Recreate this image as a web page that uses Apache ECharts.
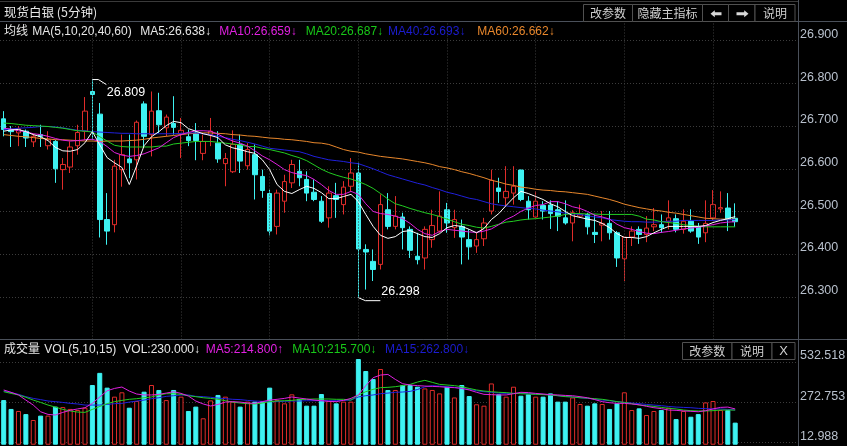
<!DOCTYPE html>
<html><head><meta charset="utf-8">
<script src="https://cdn.jsdelivr.net/npm/echarts/dist/echarts.min.js"></script>
<style>html,body{margin:0;padding:0;background:#000;}#c{width:847px;height:446px;}</style>
</head><body><div id="c"></div>
<script>
// ---------------- DATA ----------------
const slotCount = 108; // 100 candles + empty room on the right
const opens = [26.717,26.692,26.684,26.688,26.663,26.680,26.654,26.664,26.598,26.604,
26.654,26.688,26.781,26.728,26.481,26.469,26.598,26.623,26.621,26.752,
26.680,26.736,26.696,26.706,26.682,26.675,26.684,26.636,26.680,26.660,
26.612,26.593,26.657,26.607,26.633,26.582,26.542,26.465,26.524,26.567,
26.594,26.575,26.545,26.524,26.485,26.537,26.516,26.559,26.590,26.411,
26.383,26.376,26.504,26.465,26.487,26.458,26.395,26.391,26.434,26.454,
26.504,26.462,26.465,26.434,26.419,26.436,26.501,26.555,26.532,26.543,
26.597,26.524,26.487,26.514,26.515,26.504,26.485,26.473,26.489,26.493,
26.451,26.468,26.472,26.450,26.389,26.440,26.458,26.446,26.464,26.469,
26.477,26.483,26.458,26.477,26.464,26.450,26.485,26.506,26.508,26.484];
const closes = [26.692,26.687,26.694,26.672,26.676,26.676,26.668,26.600,26.610,26.651,
26.685,26.735,26.774,26.481,26.454,26.606,26.633,26.614,26.709,26.676,
26.735,26.703,26.721,26.697,26.690,26.666,26.666,26.664,26.688,26.623,
26.624,26.657,26.618,26.645,26.586,26.549,26.454,26.543,26.570,26.610,
26.579,26.543,26.528,26.477,26.543,26.528,26.557,26.590,26.412,26.405,
26.364,26.516,26.465,26.489,26.462,26.409,26.387,26.458,26.467,26.489,
26.473,26.481,26.440,26.417,26.434,26.473,26.573,26.547,26.547,26.559,
26.528,26.504,26.524,26.501,26.495,26.489,26.473,26.497,26.493,26.464,
26.446,26.472,26.450,26.391,26.440,26.454,26.446,26.461,26.469,26.462,
26.485,26.458,26.477,26.454,26.440,26.472,26.516,26.509,26.481,26.476];
const lows = [26.676,26.651,26.653,26.651,26.651,26.651,26.645,26.567,26.551,26.590,
26.633,26.668,26.668,26.439,26.422,26.451,26.558,26.578,26.575,26.651,
26.629,26.684,26.676,26.680,26.625,26.653,26.620,26.620,26.653,26.614,
26.559,26.590,26.590,26.598,26.528,26.532,26.444,26.446,26.497,26.555,
26.559,26.524,26.524,26.473,26.462,26.485,26.493,26.547,26.298,26.317,
26.337,26.364,26.458,26.458,26.411,26.391,26.376,26.364,26.415,26.450,
26.450,26.438,26.376,26.387,26.403,26.419,26.493,26.520,26.512,26.516,
26.524,26.481,26.485,26.481,26.459,26.454,26.469,26.430,26.485,26.446,
26.426,26.430,26.434,26.370,26.337,26.419,26.424,26.428,26.454,26.450,
26.458,26.451,26.448,26.450,26.424,26.428,26.480,26.497,26.454,26.464];
const highs = [26.735,26.700,26.700,26.692,26.682,26.703,26.688,26.668,26.625,26.664,
26.703,26.768,26.809,26.754,26.543,26.621,26.680,26.680,26.713,26.758,
26.781,26.778,26.727,26.770,26.719,26.692,26.707,26.680,26.719,26.688,
26.637,26.690,26.680,26.660,26.657,26.598,26.551,26.551,26.586,26.621,
26.621,26.594,26.575,26.536,26.559,26.567,26.571,26.625,26.614,26.423,
26.411,26.540,26.543,26.536,26.497,26.465,26.450,26.465,26.504,26.547,
26.520,26.504,26.481,26.458,26.450,26.485,26.598,26.579,26.606,26.606,
26.598,26.536,26.547,26.524,26.526,26.524,26.526,26.503,26.516,26.497,
26.493,26.501,26.501,26.454,26.440,26.465,26.465,26.489,26.508,26.493,
26.526,26.493,26.505,26.505,26.473,26.526,26.550,26.547,26.543,26.519];
const ma5 = [26.688,26.691,26.692,26.687,26.680,26.675,26.666,26.650,26.642,26.641,
26.645,26.661,26.687,26.656,26.626,26.614,26.603,26.563,26.607,26.654,
26.675,26.687,26.701,26.711,26.708,26.694,26.688,26.682,26.678,26.673,
26.656,26.649,26.645,26.640,26.636,26.621,26.598,26.563,26.547,26.542,
26.551,26.559,26.554,26.544,26.530,26.530,26.535,26.540,26.523,26.493,
26.465,26.444,26.437,26.441,26.453,26.455,26.448,26.441,26.439,26.448,
26.462,26.467,26.465,26.458,26.450,26.460,26.481,26.495,26.514,26.532,
26.547,26.542,26.535,26.528,26.518,26.511,26.500,26.490,26.486,26.482,
26.479,26.472,26.462,26.448,26.439,26.439,26.437,26.441,26.450,26.458,
26.465,26.465,26.465,26.465,26.465,26.467,26.474,26.479,26.483,26.488];
const ma10 = [26.695,26.693,26.689,26.687,26.682,26.680,26.676,26.671,26.667,26.665,
26.666,26.668,26.669,26.664,26.652,26.638,26.632,26.629,26.631,26.635,
26.642,26.649,26.661,26.673,26.680,26.685,26.689,26.689,26.688,26.681,
26.672,26.665,26.660,26.653,26.642,26.630,26.621,26.610,26.598,26.591,
26.587,26.584,26.575,26.563,26.549,26.540,26.540,26.547,26.540,26.518,
26.500,26.495,26.493,26.489,26.483,26.472,26.458,26.448,26.444,26.453,
26.458,26.456,26.454,26.452,26.451,26.454,26.459,26.469,26.481,26.489,
26.500,26.508,26.514,26.516,26.523,26.523,26.518,26.511,26.507,26.500,
26.491,26.487,26.482,26.470,26.462,26.458,26.453,26.449,26.448,26.451,
26.453,26.456,26.459,26.461,26.463,26.466,26.469,26.473,26.475,26.476];
const ma20 = [26.707,26.706,26.704,26.702,26.701,26.700,26.699,26.697,26.695,26.692,
26.689,26.688,26.686,26.675,26.665,26.655,26.652,26.651,26.651,26.651,
26.651,26.653,26.653,26.658,26.660,26.662,26.664,26.664,26.664,26.662,
26.660,26.658,26.656,26.652,26.652,26.648,26.645,26.641,26.637,26.631,
26.626,26.619,26.609,26.599,26.591,26.585,26.580,26.576,26.570,26.563,
26.554,26.542,26.529,26.518,26.513,26.507,26.502,26.497,26.493,26.488,
26.482,26.476,26.470,26.467,26.463,26.461,26.465,26.470,26.475,26.477,
26.480,26.482,26.483,26.485,26.487,26.489,26.493,26.495,26.495,26.494,
26.494,26.493,26.493,26.493,26.493,26.493,26.489,26.482,26.480,26.476,
26.474,26.472,26.469,26.467,26.465,26.464,26.464,26.464,26.464,26.464];
const ma40 = [26.692,26.693,26.695,26.696,26.697,26.699,26.699,26.698,26.696,26.693,
26.690,26.689,26.687,26.686,26.685,26.684,26.683,26.683,26.682,26.682,
26.682,26.682,26.682,26.682,26.683,26.684,26.684,26.682,26.680,26.676,
26.673,26.669,26.666,26.662,26.658,26.653,26.648,26.646,26.644,26.642,
26.640,26.635,26.629,26.625,26.621,26.619,26.617,26.614,26.612,26.606,
26.600,26.593,26.586,26.581,26.576,26.571,26.566,26.562,26.556,26.551,
26.545,26.541,26.536,26.531,26.528,26.523,26.518,26.515,26.513,26.511,
26.509,26.507,26.506,26.503,26.501,26.499,26.496,26.494,26.493,26.490,
26.487,26.485,26.481,26.479,26.477,26.476,26.476,26.475,26.475,26.476,
26.477,26.477,26.479,26.479,26.479,26.479,26.479,26.480,26.480,26.481];
const ma60 = [26.680,26.678,26.676,26.675,26.673,26.671,26.670,26.668,26.668,26.667,
26.666,26.665,26.665,26.664,26.665,26.665,26.665,26.666,26.667,26.669,
26.672,26.674,26.676,26.678,26.680,26.682,26.683,26.684,26.684,26.683,
26.682,26.680,26.679,26.677,26.676,26.674,26.672,26.671,26.669,26.668,
26.666,26.664,26.661,26.660,26.657,26.651,26.645,26.641,26.639,26.635,
26.632,26.629,26.627,26.625,26.623,26.620,26.617,26.614,26.610,26.605,
26.602,26.598,26.593,26.589,26.584,26.579,26.573,26.569,26.564,26.561,
26.557,26.555,26.552,26.550,26.549,26.547,26.546,26.544,26.542,26.540,
26.536,26.532,26.528,26.523,26.517,26.513,26.509,26.506,26.503,26.501,
26.498,26.496,26.493,26.490,26.487,26.484,26.483,26.482,26.482,26.482];
const volumes = [287,230,217,197,159,187,187,245,242,230,
223,238,384,462,367,309,337,238,281,341,
384,352,287,352,309,217,245,170,285,320,
309,277,245,277,277,277,367,287,266,324,
294,251,251,326,281,266,277,277,551,474,
423,487,352,352,384,384,373,362,352,330,
373,304,384,313,260,251,394,324,309,373,
315,324,309,309,330,277,277,304,262,251,
266,262,230,266,337,223,234,191,217,223,
238,165,217,180,197,272,281,223,223,142];
const volMa5 = [352,337,320,287,255,212,195,191,208,221,
230,238,266,307,347,362,371,345,326,320,
320,324,332,341,330,313,281,262,249,259,
274,277,274,268,266,277,287,292,298,307,
300,294,287,283,279,277,285,298,320,380,
431,448,452,420,392,384,380,377,375,373,
369,367,362,352,337,324,322,320,320,328,
337,335,330,326,322,320,317,315,309,302,
290,277,270,266,266,262,257,247,238,232,
223,221,217,215,212,219,230,240,242,230];
const volMa10 = [341,330,320,305,287,272,255,242,227,217,
210,208,227,246,264,277,285,292,296,302,
307,320,328,328,324,315,309,302,298,292,
283,274,268,264,262,268,277,281,283,285,
290,292,294,294,294,292,292,287,320,341,
356,367,369,373,380,388,403,414,401,388,
384,380,373,362,352,345,341,337,335,330,
328,326,324,322,320,315,309,307,302,300,
296,292,285,277,272,264,255,251,246,240,
234,230,223,219,217,217,219,223,223,223];
const volMa15 = [345,335,324,309,298,290,281,277,272,266,
262,255,255,255,259,264,266,274,281,287,
296,302,311,315,320,320,311,309,305,300,
296,292,290,285,281,279,277,277,279,281,
281,283,283,283,283,283,285,287,307,315,
320,328,332,337,339,343,355,372,380,377,
373,369,362,356,347,341,337,332,330,330,
330,328,326,324,320,315,311,307,302,298,
294,287,283,277,272,268,264,259,255,251,
246,242,240,238,234,232,230,230,227,223];
const priceMin = 26.2, priceMax = 26.945, priceStep = 0.1;
const volTicks = [12.988, 272.753, 532.518];
const volMax = 676.6;
const hourMarks = [12, 24, 36, 48, 60, 72, 84, 96];
const extremes = [[12, 26.809, 0], [48, 26.298, 1]];
const titleText = '现货白银 (5分钟)';
const maLegend = [['均线', '#e6e6e6', 4], ['MA(5,10,20,40,60)', '#e6e6e6', 32.3], ['MA5:26.638↓', '#e6e6e6', 140.3],
  ['MA10:26.659↓', '#e020e0', 219.3], ['MA20:26.687↓', '#18c818', 305.7], ['MA40:26.693↓', '#1c1cd0', 388], ['MA60:26.662↓', '#e8872c', 477.3]];
const volLegend = [['成交量', '#e6e6e6', 4], ['VOL(5,10,15)', '#e6e6e6', 44.3], ['VOL:230.000↓', '#e6e6e6', 123.3],
  ['MA5:214.800↑', '#e020e0', 205.7], ['MA10:215.700↓', '#18c818', 292.3], ['MA15:262.800↓', '#1c1cd0', 385]];

// ---------------- CHART ----------------
const categories = [];
for (let i = 0; i < slotCount; i++) categories.push(String(i));
const UP = '#e02c2a', DOWN = '#3ef2f2';
const FONT = '"Liberation Sans","Noto Sans CJK SC",sans-serif';
const CJK = '"Noto Sans CJK SC",sans-serif';
const GRIDC = '#3c3c3c';
const FRAME = '#4a505a';
const BLUE = '#2020dc';

const candleData = opens.map((o, i) => [o, closes[i], lows[i], highs[i]]);
const volData = volumes.map((v, i) => {
  const up = closes[i] >= opens[i];
  return { value: v, itemStyle: up ? { color: '#000', borderColor: UP, borderWidth: 1 } : { color: DOWN, borderColor: DOWN, borderWidth: 1 } };
});

function txt(t, color, x, y, font) {
  return { type: 'text', x: x, y: y, z: 100, silent: true,
    style: { text: t, fill: color, font: font || ('12px ' + FONT), verticalAlign: 'middle', align: 'left' } };
}
function btn(x, y, w, h, label, font) {
  return [
    { type: 'rect', z: 90, silent: true, shape: { x: x, y: y, width: w, height: h }, style: { fill: '#000', stroke: '#505050', lineWidth: 1 } },
    { type: 'text', z: 91, silent: true, x: x + w / 2, y: y + h / 2 + 0.5, style: { text: label, fill: '#cfcfcf', font: font || ('12px ' + CJK), align: 'center', verticalAlign: 'middle' } }
  ];
}
function hline(y, x1, x2, c) { return { type: 'line', z: 80, silent: true, shape: { x1: x1, y1: y, x2: x2, y2: y }, style: { stroke: c || FRAME, lineWidth: 1 } }; }

const graphics = [];
graphics.push(hline(1.5, 0, 798, '#3a3a3a'), hline(21.5, 0, 847), hline(339.5, 0, 847));
graphics.push({ type: 'line', z: 80, silent: true, shape: { x1: 798.5, y1: 0, x2: 798.5, y2: 446 }, style: { stroke: FRAME, lineWidth: 1 } });
graphics.push(txt(titleText, '#e6e6e6', 4, 12.7, '12.5px ' + CJK));
maLegend.forEach(m => graphics.push(txt(m[0], m[1], m[2], 31.7)));
volLegend.forEach(m => graphics.push(txt(m[0], m[1], m[2], 349.5)));
graphics.push(...btn(583.5, 4.5, 49, 17, '改参数'), ...btn(632.5, 4.5, 70, 17, '隐藏主指标'),
  ...btn(702.5, 4.5, 26, 17, ''), ...btn(728.5, 4.5, 26.5, 17, ''), ...btn(755, 4.5, 40, 17, '说明'));
graphics.push({ type: 'polygon', z: 95, silent: true, shape: { points: [[710.5, 13.8], [714.8, 10.3], [714.8, 12.3], [721.5, 12.3], [721.5, 15.3], [714.8, 15.3], [714.8, 17.3]] }, style: { fill: '#d8d8d8' } });
graphics.push({ type: 'polygon', z: 95, silent: true, shape: { points: [[748.5, 13.8], [744.2, 10.3], [744.2, 12.3], [736.5, 12.3], [736.5, 15.3], [744.2, 15.3], [744.2, 17.3]] }, style: { fill: '#d8d8d8' } });
graphics.push(...btn(682.5, 342.5, 49.5, 17, '改参数'), ...btn(732, 342.5, 40, 17, '说明'), ...btn(772, 342.5, 23, 17, 'X', '13px ' + FONT));

const axisLabelStyle = { color: '#b8c0cc', fontSize: 12.5, fontFamily: FONT, margin: 2, verticalAlign: 'bottom', align: 'left' };
function maLine(data, color, xi, yi) {
  return { type: 'line', data: data, xAxisIndex: xi, yAxisIndex: yi, showSymbol: false, symbol: 'none', z: 5, silent: true,
    lineStyle: { color: color, width: 1 }, itemStyle: { color: color }, emphasis: { disabled: true } };
}

const option = {
  backgroundColor: '#000',
  animation: false,
  grid: [
    { left: 0, right: 49, top: 21.5, height: 318, containLabel: false, outerBoundsMode: 'none', show: false },
    { left: 0, right: 49, top: 339.5, height: 103.2, containLabel: false, outerBoundsMode: 'none', show: false }
  ],
  xAxis: [0, 1].map(g => ({ type: 'category', gridIndex: g, data: categories, boundaryGap: true,
    axisLine: { show: false }, axisTick: { show: false }, axisLabel: { show: false }, splitLine: { show: false }, axisPointer: { show: false } })),
  yAxis: [
    { type: 'value', gridIndex: 0, position: 'right', min: priceMin, max: priceMax, interval: priceStep, scale: true,
      axisLine: { show: false }, axisTick: { show: false },
      splitLine: { show: true, lineStyle: { color: GRIDC, type: [1, 2], width: 1 } },
      axisLabel: Object.assign({}, axisLabelStyle, { formatter: v => (v > priceMin + 1e-6 && v < priceMax - 1e-6) ? v.toFixed(3) : '' }) },
    { type: 'value', gridIndex: 1, position: 'right', min: volTicks[0], max: volMax, interval: volTicks[1] - volTicks[0],
      axisLine: { show: false }, axisTick: { show: false },
      splitLine: { show: true, lineStyle: { color: GRIDC, type: [1, 2], width: 1 } },
      axisLabel: Object.assign({}, axisLabelStyle, { formatter: v => volTicks.some(t => Math.abs(t - v) < 1e-3) ? v.toFixed(3) : '' }) }
  ],
  series: [
    { type: 'candlestick', xAxisIndex: 0, yAxisIndex: 0, data: candleData, barWidth: 5, z: 3, silent: true,
      itemStyle: { color: '#000', color0: DOWN, borderColor: UP, borderColor0: DOWN, borderWidth: 1 },
      markLine: { silent: true, symbol: ['none', 'none'], animation: false, label: { show: false },
        lineStyle: { color: GRIDC, type: [1, 2], width: 1 }, emphasis: { disabled: true },
        data: hourMarks.map(i => ({ xAxis: categories[i] })) } },
    maLine(ma60, '#e8872c', 0, 0),
    maLine(ma40, BLUE, 0, 0),
    maLine(ma20, '#22cc22', 0, 0),
    maLine(ma10, '#e020e0', 0, 0),
    maLine(ma5, '#ffffff', 0, 0),
    { type: 'custom', xAxisIndex: 0, yAxisIndex: 0, z: 8, silent: true, data: extremes,
      renderItem: function (params, api) {
        const p = api.coord([api.value(0), api.value(1)]);
        const label = api.value(1).toFixed(3);
        const isHigh = api.value(2) === 0;
        const pts = isHigh ? [[p[0], p[1]], [p[0] + 6, p[1]], [p[0] + 14, p[1] + 5]]
                           : [[p[0], p[1]], [p[0] + 7, p[1] + 3], [p[0] + 22, p[1] + 3]];
        return { type: 'group', children: [
          { type: 'polyline', shape: { points: pts }, style: { stroke: '#ffffff', fill: null, lineWidth: 1 } },
          { type: 'text', x: isHigh ? p[0] + 14.5 : p[0] + 23, y: isHigh ? p[1] + 13 : p[1] - 6,
            style: { text: label, fill: '#ffffff', font: '12.5px ' + FONT, verticalAlign: 'middle', align: 'left' } }
        ] };
      } },
    { type: 'bar', xAxisIndex: 1, yAxisIndex: 1, data: volData, barWidth: 5, clip: false, z: 3, silent: true },
    maLine(volMa15, BLUE, 1, 1),
    maLine(volMa10, '#22cc22', 1, 1),
    maLine(volMa5, '#e020e0', 1, 1)
  ],
  graphic: { elements: graphics }
};
const chart = echarts.init(document.getElementById('c'));
chart.setOption(option);
</script>
</body></html>
